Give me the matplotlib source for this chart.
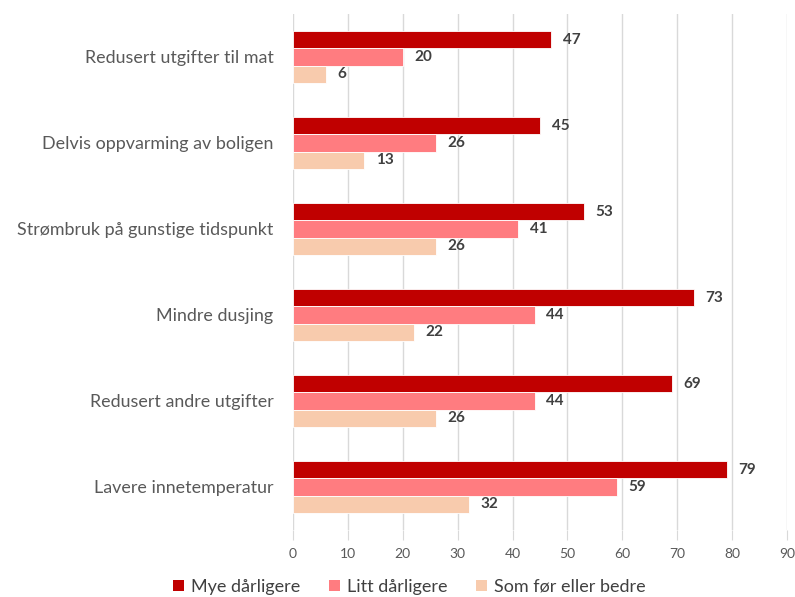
import matplotlib
matplotlib.use("Agg")
import matplotlib.pyplot as plt
import numpy as np
from matplotlib.patches import Patch

categories = [
    "Redusert utgifter til mat",
    "Delvis oppvarming av boligen",
    "Strømbruk på gunstige tidspunkt",
    "Mindre dusjing",
    "Redusert andre utgifter",
    "Lavere innetemperatur",
]
series_names = ["Mye dårligere", "Litt dårligere", "Som før eller bedre"]
mye = [47, 45, 53, 73, 69, 79]
litt = [20, 26, 41, 44, 44, 59]
som = [6, 13, 26, 22, 26, 32]
x_ticks = [0, 10, 20, 30, 40, 50, 60, 70, 80, 90]

colors = ["#C00000", "#FF7C80", "#F8CBAD"]
plt.rcParams["font.family"] = ["Lato", "DejaVu Sans"]

fig = plt.figure(figsize=(7.95, 5.97), dpi=100)
ax = fig.add_axes([293 / 795, 1 - 530 / 597, 494 / 795, 516 / 597])

y = np.arange(len(categories))
h = 0.2
for i, (vals, col) in enumerate(zip([mye, litt, som], colors)):
    pos = y + (i - 1) * h
    ax.barh(pos, vals, height=h, color=col, edgecolor="white", linewidth=0.6, zorder=3)
    for p, v in zip(pos, vals):
        ax.text(v + 2.1, p, str(v), va="center", ha="left", fontsize=11,
                fontweight="bold", color="#404040", zorder=4)

ax.set_xlim(0, 90)
ax.set_ylim(len(categories) - 0.5, -0.5)
ax.set_xticks(x_ticks)
ax.set_xticklabels([str(t) for t in x_ticks], fontsize=10, color="#595959")
ax.set_yticks(y)
ax.set_yticklabels(categories, fontsize=12.9, color="#595959")
ax.tick_params(axis="y", length=0, pad=14)
ax.tick_params(axis="x", length=7, color="#D9D9D9", pad=6)
ax.xaxis.grid(True, color="#D9D9D9", linewidth=1, zorder=0)
for s in ax.spines.values():
    s.set_visible(False)

handles = [Patch(facecolor=c, edgecolor="none") for c in colors]
fig.legend(handles, series_names, loc="center", bbox_to_anchor=(0.515, 1 - 587 / 597),
           ncol=3, frameon=False, fontsize=13, handlelength=0.6, handleheight=0.6,
           handletextpad=0.4, columnspacing=1.6, labelcolor="#404040")

fig.savefig("out.png", dpi=100)
